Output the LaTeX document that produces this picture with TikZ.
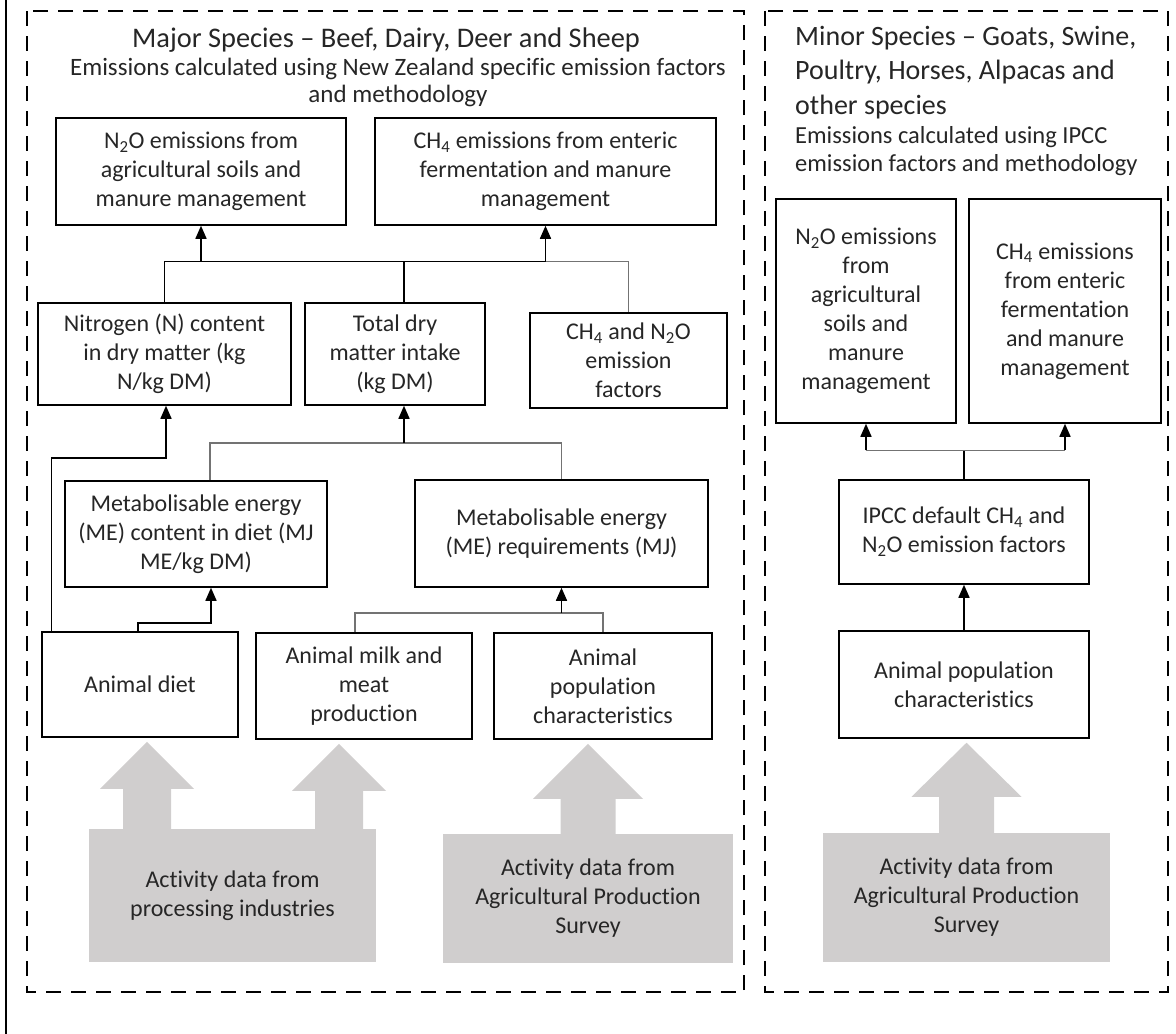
\documentclass[tikz,border=0pt]{standalone}
\usepackage{fontspec}
\setmainfont{Carlito}[Ligatures=NoCommon]
\usetikzlibrary{calc,arrows.meta}

\definecolor{sourcegrey}{HTML}{D0CECE}
\definecolor{ink}{HTML}{262626}

\begin{document}
\begin{tikzpicture}[x=1pt,y=-1pt,
  box/.style={draw,line width=1.5pt,fill=white,align=center,inner sep=2pt,text=ink,font=\fontsize{24}{29}\selectfont},
  source/.style={fill=sourcegrey,align=center,inner sep=2pt,text=ink,font=\fontsize{24}{29}\selectfont},
  link/.style={line width=1.5pt},
  greylink/.style={line width=1.5pt,black!55},
  feed/.style={line width=1.5pt,-{Triangle[width=11pt,length=13pt,color=black]}},
  panel/.style={line width=1.5pt,dash pattern=on 15pt off 10pt}]

  \useasboundingbox (0,0) rectangle (1176,1034);
  \draw[line width=2pt] (6,0) -- (6,1034);
  \draw[panel] (27,11) rectangle (744,992);
  \draw[panel] (765,11) rectangle (1168,992);

  % titles
  \node[text=ink,font=\fontsize{28.4}{34.5}\selectfont] (majortitle) at (386,40) {Major Species – Beef, Dairy, Deer and Sheep};
  \node[text=ink,align=center,font=\fontsize{25}{27}\selectfont] (majorsub) at (398,82.5) {Emissions calculated using New Zealand specific emission factors\\and methodology};
  \node[anchor=west,inner sep=0pt,align=left,text=ink,font=\fontsize{28}{34.5}\selectfont] (minortitle) at (795,72.5) {Minor Species – Goats, Swine,\\Poultry, Horses, Alpacas and\\other species};
  \node[anchor=west,inner sep=0pt,align=left,text=ink,font=\fontsize{24.5}{28}\selectfont] (minorsub) at (795,151) {Emissions calculated using IPCC\\emission factors and methodology};

  % major species
  \node[box,minimum width=290pt,minimum height=107pt] (n2oA) at (201,171.5) {N\textsubscript{2}O emissions from\\agricultural soils and\\manure management};
  \node[box,minimum width=341pt,minimum height=107pt] (ch4A) at (545.5,171.5) {CH\textsubscript{4} emissions from enteric\\fermentation and manure\\management};
  \node[box,minimum width=253pt,minimum height=102pt] (nitro) at (164.5,354) {Nitrogen (N) content\\in dry matter (kg\\N/kg DM)};
  \node[box,minimum width=180pt,minimum height=102pt] (dmi) at (395,354) {Total dry\\matter intake\\(kg DM)};
  \node[box,minimum width=197pt,minimum height=95pt] (ef) at (628.5,360.5) {CH\textsubscript{4} and N\textsubscript{2}O\\emission\\factors};
  \node[box,minimum width=262pt,minimum height=106pt] (mecontent) at (196,534) {Metabolisable energy\\(ME) content in diet (MJ\\ME/kg DM)};
  \node[box,minimum width=293pt,minimum height=107pt] (mereq) at (561.5,533.5) {Metabolisable energy\\(ME) requirements (MJ)};
  \node[box,minimum width=196pt,minimum height=105pt] (diet) at (140,684.5) {Animal diet};
  \node[box,minimum width=216pt,minimum height=106pt] (milk) at (364,686) {Animal milk and\\meat\\production};
  \node[box,minimum width=218pt,minimum height=106pt] (popA) at (603,686) {Animal\\population\\characteristics};
  \node[source,minimum width=287pt,minimum height=133pt] (actproc) at (232.5,895.5) {Activity data from\\processing industries};
  \node[source,minimum width=290pt,minimum height=129pt] (actsurvA) at (588,898.5) {Activity data from\\Agricultural Production\\Survey};

  % minor species
  \node[box,minimum width=180pt,minimum height=224pt] (n2oB) at (866,311) {N\textsubscript{2}O emissions\\from\\agricultural\\soils and\\manure\\management};
  \node[box,minimum width=192pt,minimum height=224pt] (ch4B) at (1065,311) {CH\textsubscript{4} emissions\\from enteric\\fermentation\\and manure\\management};
  \node[box,minimum width=250pt,minimum height=104pt] (ipcc) at (964,532) {IPCC default CH\textsubscript{4} and\\N\textsubscript{2}O emission factors};
  \node[box,minimum width=250pt,minimum height=107pt] (popB) at (964,684.5) {Animal population\\characteristics};
  \node[source,minimum width=287pt,minimum height=129pt] (actsurvB) at (966.5,897.5) {Activity data from\\Agricultural Production\\Survey};

  % connectors
  \coordinate (bus1) at ($(nitro.north)+(0,-41)$);
  \draw[link] (nitro.north) -- (bus1) -- (ch4A.south |- bus1);
  \draw[greylink] (ch4A.south |- bus1) -| (ef.north);
  \draw[link] ($(dmi.north)+(9,0)$) -- ++(0,-41);
  \draw[feed] (n2oA.south |- bus1) -- (n2oA.south);
  \draw[feed] (ch4A.south |- bus1) -- (ch4A.south);

  \draw[feed] ($(diet.north west)+(10,0)$) |- ($(nitro.south)+(1.5,52)$) -- ($(nitro.south)+(1.5,0)$);

  \coordinate (bus2) at ($(dmi.south)+(9,37)$);
  \draw[greylink] ($(mecontent.north)+(14,0)$) |- (bus2) -| (mereq.north);
  \draw[feed] (bus2) -- ($(dmi.south)+(9,0)$);

  \draw[feed] ($(diet.north)+(-2,0)$) |- ($(mecontent.south)+(15,35)$) -- ($(mecontent.south)+(15,0)$);

  \coordinate (bus3) at ($(mereq.south)+(0,25)$);
  \draw[greylink] ($(milk.north)+(-9,0)$) |- (bus3) -| (popA.north);
  \draw[feed] (bus3) -- (mereq.south);

  \coordinate (bus4) at ($(ipcc.north)+(0,-29)$);
  \draw[link] (ipcc.north) -- (bus4);
  \draw[greylink] (n2oB.south |- bus4) -- (ch4B.south |- bus4);
  \draw[feed] (n2oB.south |- bus4) -- (n2oB.south);
  \draw[feed] (ch4B.south |- bus4) -- (ch4B.south);
  \draw[feed] (popB.north) -- (ipcc.south);

  % grey block arrows
  \foreach \src/\dst/\dx/\s/\h/\l in {actproc/diet/-85.5/24/47/47, actproc/milk/106.5/24/47/47, actsurvA/popA/0/27.5/55/55, actsurvB/popB/0/27.5/55/54}{
    \coordinate (b) at ($(\src.north)+(\dx,2)$);
    \coordinate (t) at ($(\dst.south)+(0,4)$);
    \coordinate (tip) at (b |- t);
    \fill[sourcegrey] ($(b)+(-\s,0)$) -- ($(tip)+(-\s,\l)$) -- ($(tip)+(-\h,\l)$) -- (tip)
      -- ($(tip)+(\h,\l)$) -- ($(tip)+(\s,\l)$) -- ($(b)+(\s,0)$) -- cycle;
  }
\end{tikzpicture}
\end{document}
